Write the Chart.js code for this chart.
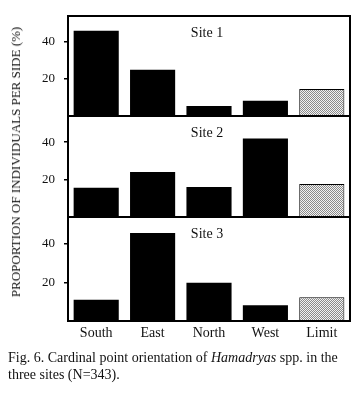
<!DOCTYPE html>
<html>
<head>
<meta charset="utf-8">
<script src="https://cdn.jsdelivr.net/npm/chart.js@4"></script>
<style>
  body { margin: 0; background: #fff; width: 360px; height: 402px; position: relative; overflow: hidden; font-family: 'Liberation Serif', serif; }
  canvas { position: absolute; left: 0; }
  #yTitle { position: absolute; left: 16px; top: 162px; transform: translate(-50%, -50%) rotate(-90deg); white-space: nowrap; font-size: 13px; color: #111; }
  #caption { position: absolute; left: 8px; top: 349px; width: 350px; font-size: 14px; line-height: 17px; color: #111; }
</style>
</head>
<body>
<canvas id="site1" width="360" height="106" style="top:12px"></canvas>
<canvas id="site2" width="360" height="107" style="top:112px"></canvas>
<canvas id="site3" width="360" height="130" style="top:213px"></canvas>
<div id="yTitle">PROPORTION OF INDIVIDUALS PER SIDE (%)</div>
<div id="caption">Fig. 6. Cardinal point orientation of <i>Hamadryas</i> spp. in the three sites (N=343).</div>
<script>
// ── datos ──
const sides = ['South', 'East', 'North', 'West', 'Limit'];
const site1 = [46, 25, 5.4, 8.3, 14.6];
const site2 = [15.7, 24, 16, 42, 17.6];
const site3 = [11, 45.7, 19.8, 8.2, 12.3];
const yTicks = [20, 40];

// trama punteada para "Limit"
function stipple() {
    const c = document.createElement('canvas');
    c.width = 2; c.height = 2;
    const g = c.getContext('2d');
    g.fillStyle = '#f2f2f2'; g.fillRect(0, 0, 2, 2);
    g.fillStyle = '#8a8a8a'; g.fillRect(0, 0, 1, 1); g.fillRect(1, 1, 1, 1);
    return g.createPattern(c, 'repeat');
}
const dots = stipple();

const framePlugin = {
    id: 'frame',
    afterDraw(chart, args, opts) {
        const { ctx, chartArea: a } = chart;
        ctx.save();
        ctx.strokeStyle = '#000';
        ctx.lineWidth = 2;
        ctx.strokeRect(a.left, a.top, a.right - a.left, a.bottom - a.top);
        ctx.fillStyle = '#111';
        ctx.font = '14px "Liberation Serif", serif';
        ctx.textAlign = 'center';
        ctx.textBaseline = 'middle';
        ctx.fillText(opts.text, (a.left + a.right) / 2 - 2, a.top + 17);
        ctx.restore();
    }
};

function sitePanel(el, title, values, showX) {
    return new Chart(el, {
        type: 'bar',
        data: {
            labels: sides,
            datasets: [{
                data: values,
                backgroundColor: values.map((v, i) => i === 4 ? dots : '#000'),
                borderColor: '#000',
                borderWidth: values.map((v, i) => i === 4 ? 1 : 0),
                barPercentage: 0.8,
                categoryPercentage: 1
            }]
        },
        options: {
            responsive: false,
            animation: false,
            layout: { padding: { top: 4, right: 10, bottom: showX ? 0 : 2, left: 0 } },
            plugins: {
                legend: { display: false },
                tooltip: { enabled: false },
                frame: { text: title }
            },
            scales: {
                x: {
                    display: showX,
                    afterFit: s => {
                        s.paddingLeft = 0; s.paddingRight = 0;
                        if (showX) s.height = 22;
                    },
                    grid: { display: false, drawTicks: false },
                    border: { display: false },
                    ticks: { color: '#111', padding: 4, font: { family: 'Liberation Serif', size: 14 } }
                },
                y: {
                    min: 0, max: 54,
                    afterBuildTicks: s => { s.ticks = yTicks.map(v => ({ value: v })); },
                    afterFit: s => { s.width = 68; s.paddingTop = 0; s.paddingBottom = 0; },
                    grid: { drawOnChartArea: false, color: '#000', tickLength: 4, lineWidth: 1.5 },
                    border: { display: false },
                    ticks: { color: '#111', padding: 9, font: { family: 'Liberation Serif', size: 13 } }
                }
            }
        },
        plugins: [framePlugin]
    });
}

sitePanel(document.getElementById('site1'), 'Site 1', site1, false);
sitePanel(document.getElementById('site2'), 'Site 2', site2, false);
sitePanel(document.getElementById('site3'), 'Site 3', site3, true);
</script>
</body>
</html>
